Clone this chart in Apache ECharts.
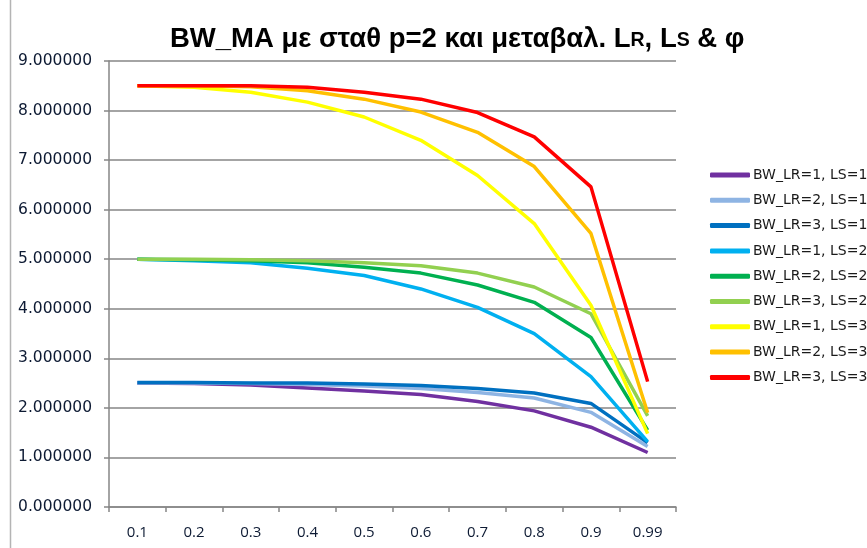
<!DOCTYPE html>
<html>
<head>
<meta charset="utf-8">
<script src="https://cdn.jsdelivr.net/npm/echarts@6/dist/echarts.min.js"></script>
<style>
  html, body { margin: 0; padding: 0; background: #fff; }
  #chart { width: 867px; height: 548px; }
</style>
</head>
<body>
<div id="chart"></div>
<script>
// φ values on the category axis
const phi = ['0.1', '0.2', '0.3', '0.4', '0.5', '0.6', '0.7', '0.8', '0.9', '0.99'];

// BW for each (LR, LS) combination, p = 2
const bwLR1LS1 = [2.50, 2.49, 2.46, 2.40, 2.34, 2.27, 2.13, 1.94, 1.61, 1.10];
const bwLR2LS1 = [2.50, 2.50, 2.49, 2.47, 2.44, 2.39, 2.31, 2.20, 1.91, 1.22];
const bwLR3LS1 = [2.51, 2.51, 2.50, 2.50, 2.48, 2.45, 2.39, 2.30, 2.09, 1.30];
const bwLR1LS2 = [5.00, 4.97, 4.93, 4.82, 4.67, 4.40, 4.03, 3.50, 2.63, 1.32];
const bwLR2LS2 = [5.00, 4.99, 4.97, 4.93, 4.84, 4.72, 4.48, 4.13, 3.42, 1.55];
const bwLR3LS2 = [5.00, 5.00, 4.99, 4.97, 4.93, 4.87, 4.72, 4.44, 3.90, 1.84];
const bwLR1LS3 = [8.50, 8.47, 8.37, 8.17, 7.87, 7.40, 6.69, 5.72, 4.07, 1.48];
const bwLR2LS3 = [8.50, 8.50, 8.48, 8.40, 8.23, 7.97, 7.56, 6.87, 5.52, 1.90];
const bwLR3LS3 = [8.50, 8.50, 8.50, 8.47, 8.37, 8.23, 7.96, 7.47, 6.46, 2.53];

const seriesNames = [
  'BW_LR=1, LS=1', 'BW_LR=2, LS=1', 'BW_LR=3, LS=1',
  'BW_LR=1, LS=2', 'BW_LR=2, LS=2', 'BW_LR=3, LS=2',
  'BW_LR=1, LS=3', 'BW_LR=2, LS=3', 'BW_LR=3, LS=3'
];
const seriesData = [
  bwLR1LS1, bwLR2LS1, bwLR3LS1,
  bwLR1LS2, bwLR2LS2, bwLR3LS2,
  bwLR1LS3, bwLR2LS3, bwLR3LS3
];
const seriesColors = [
  '#7030A0', '#8EB4E3', '#0070C0',
  '#00B0F0', '#00B050', '#92D050',
  '#FFFF00', '#FFC000', '#FF0000'
];

const chart = echarts.init(document.getElementById('chart'), null, { renderer: 'canvas' });

const titleFont = 'Liberation Sans, Arial, sans-serif';

const option = {
  backgroundColor: '#ffffff',
  animation: false,
  title: {
    // R and S are set in small capitals
    text: 'BW_MA με σταθ p=2 και μεταβαλ. L{s|R}, L{s|S} & φ',
    left: 165,
    top: 20,
    textStyle: {
      fontFamily: titleFont,
      fontWeight: 'bold',
      fontSize: 27.5,
      color: '#000000',
      rich: {
        s: {
          fontFamily: titleFont,
          fontWeight: 'bold',
          fontSize: 19.5,
          color: '#000000',
          verticalAlign: 'bottom',
          padding: [0, 0, 2, 0]
        }
      }
    }
  },
  legend: {
    orient: 'vertical',
    left: 705,
    top: 161,
    itemWidth: 40,
    itemHeight: 5,
    itemGap: 7.3,
    icon: 'roundRect',
    textStyle: {
      fontFamily: 'DejaVu Sans, sans-serif',
      fontSize: 14,
      lineHeight: 18,
      color: '#1a1a1a',
      padding: [0, 0, 0, -2]
    },
    data: seriesNames.map((n, i) => ({
      name: n,
      itemStyle: { color: seriesColors[i] }
    }))
  },
  grid: {
    left: 109,
    right: 191,
    top: 61,
    bottom: 41,
    containLabel: false
  },
  xAxis: {
    type: 'category',
    data: phi,
    boundaryGap: true,
    axisLine: { lineStyle: { color: '#868686', width: 1.5 } },
    axisTick: { show: true, length: 5, alignWithLabel: false, lineStyle: { color: '#868686', width: 1.5 } },
    axisLabel: {
      margin: 18,
      fontFamily: 'Open Sans, sans-serif',
      fontSize: 15,
      color: '#0d1a33'
    },
    splitLine: { show: false }
  },
  yAxis: {
    type: 'value',
    min: 0,
    max: 9,
    interval: 1,
    axisLine: { show: true, lineStyle: { color: '#868686', width: 1.5 } },
    axisTick: { show: true, length: 5, lineStyle: { color: '#868686', width: 1.5 } },
    axisLabel: {
      margin: 17,
      fontFamily: 'DejaVu Sans, sans-serif',
      fontSize: 15.5,
      color: '#0d1a33',
      formatter: v => v.toFixed(6)
    },
    splitLine: { show: true, lineStyle: { color: '#868686', width: 1.5 } }
  },
  graphic: [
    {
      type: 'line',
      shape: { x1: 10.5, y1: 0, x2: 10.5, y2: 548 },
      style: { stroke: '#b4b4b4', lineWidth: 1.5 }
    }
  ],
  series: seriesNames.map((n, i) => ({
    name: n,
    type: 'line',
    data: seriesData[i],
    showSymbol: false,
    symbol: 'none',
    lineStyle: { color: seriesColors[i], width: 3.5 },
    itemStyle: { color: seriesColors[i] },
    z: 2 + i
  }))
};

chart.setOption(option);
</script>
</body>
</html>
